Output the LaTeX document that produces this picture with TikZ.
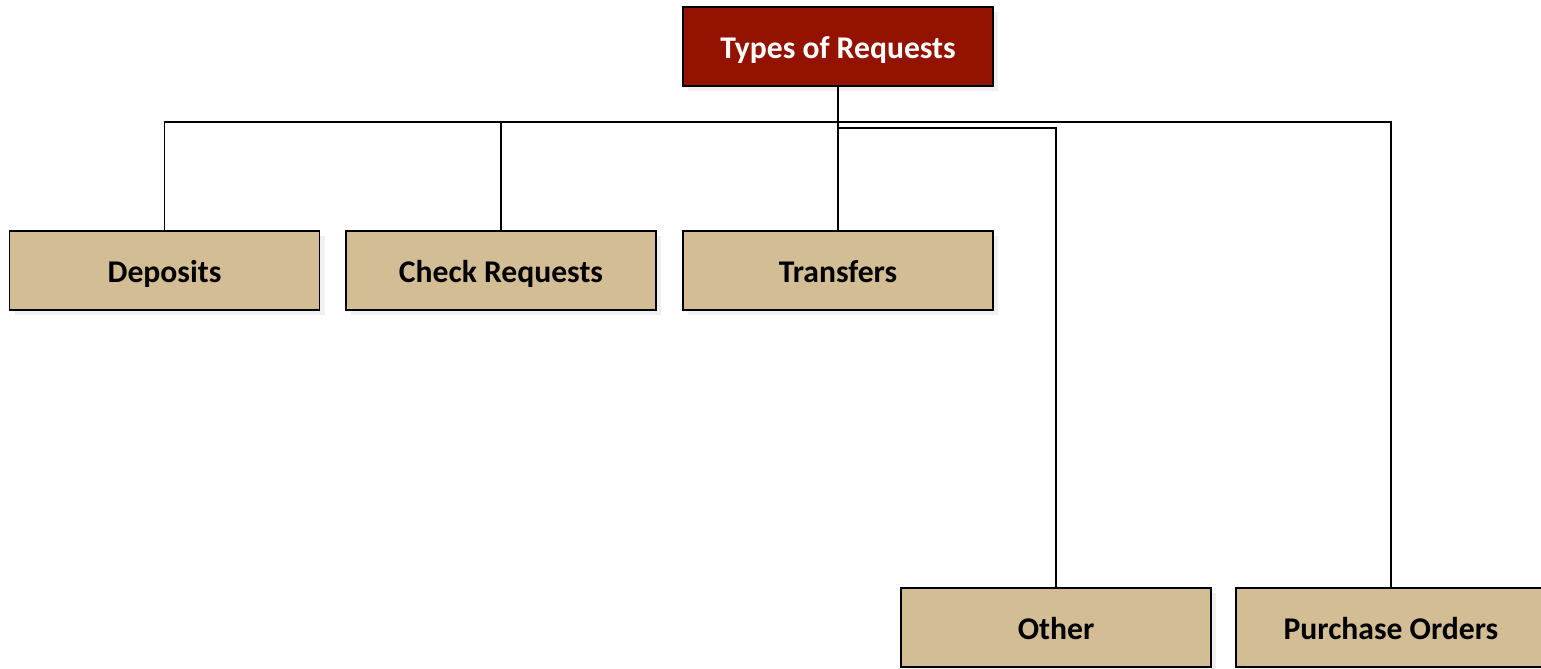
\documentclass[tikz,border=0pt]{standalone}
\usepackage{fontspec}
\setmainfont{Carlito}
\usetikzlibrary{positioning,shadows}
\definecolor{ReqRed}{RGB}{148,18,0}
\definecolor{ReqTan}{RGB}{211,189,149}

\begin{document}
\begin{tikzpicture}[
    x=0.02cm, y=-0.02cm,
    root/.style={rectangle,draw=black,line width=1pt,minimum width=6.2cm,minimum height=1.58cm,fill=ReqRed,text=white,font=\fontsize{18}{22}\selectfont\bfseries,text height=14pt,text depth=0pt,drop shadow={shadow xshift=3pt,shadow yshift=-3pt,opacity=0.12}},
    item/.style={rectangle,draw=black,line width=1pt,minimum width=6.2cm,minimum height=1.58cm,fill=ReqTan,text=black,font=\fontsize{18}{22}\selectfont\bfseries,text height=14pt,text depth=0pt,drop shadow={shadow xshift=3pt,shadow yshift=-3pt,opacity=0.12}},
    link/.style={draw=black,line width=1.1pt}
]
\useasboundingbox (0,0) rectangle (1541,669);

% Top box
\node[root] (root) at (838,46.5) {Types of Requests};

% First row
\node[item] (dep) at (164.5,270.5) {Deposits};
\node[item] (chk) at (501,270.5) {Check Requests};
\node[item] (trf) at (838,270.5) {Transfers};

% Second row
\node[item] (oth) at (1056,627.5) {Other};
\node[item] (po) at (1391,627.5) {Purchase Orders};

% Bus lines
\coordinate (bus) at (838,122);
\coordinate (bus2) at (838,128);
\draw[link] (root.south) -- (trf.north);
\draw[link] (dep.north) |- (bus) -| (po.north);
\draw[link] (chk.north) -- (chk.north |- bus);
\draw[link] (bus2) -| (oth.north);
\end{tikzpicture}
\end{document}
